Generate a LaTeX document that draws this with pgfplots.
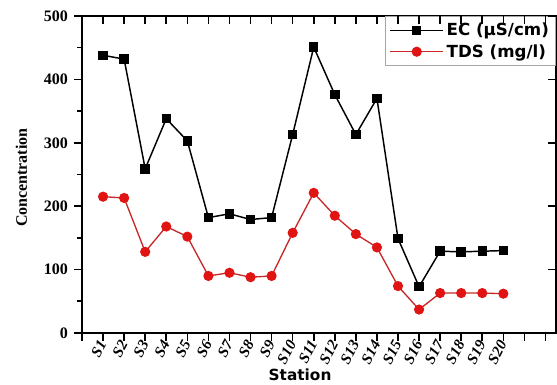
\documentclass[border=0pt]{standalone}
\usepackage{fontspec}
\setmainfont{Liberation Serif}
\newfontfamily\dejab{DejaVu Sans}[BoldFont={DejaVu Sans Bold}]
\usepackage{pgfplots}
\pgfplotsset{compat=1.18}
\usepackage{pgfplotstable}
\definecolor{tdsred}{RGB}{225,20,20}
\definecolor{tdsline}{RGB}{200,40,40}
\pgfplotstableread{
x EC TDS
0 438 215
1 432 213
2 259 128
3 338 168
4 303 152
5 182 90
6 188 95
7 179 88
8 182 90
9 313 158
10 451 221
11 376 185
12 313 156
13 370 135
14 149 74
15 73 37
16 129 63
17 128 63
18 129 63
19 130 62
}\datatable
\begin{document}
\begin{tikzpicture}
\begin{axis}[
  scale only axis,
  width=355.5pt, height=237.75pt,
  xmin=-1, xmax=21.5, ymin=0, ymax=500,
  axis line style={line width=1.5pt},
  xtick={-1,0,...,21},
  xticklabels={,S1,S2,S3,S4,S5,S6,S7,S8,S9,S10,S11,S12,S13,S14,S15,S16,S17,S18,S19,S20,,},
  ytick={0,100,...,500},
  minor ytick={50,150,...,450},
  xtick pos=bottom, ytick pos=left,
  tick align=outside,
  major tick length=6pt, minor tick length=3.5pt,
  tick style={line width=1.2pt, black},
  /pgf/number format/assume math mode=true,
  yticklabel style={font=\fontsize{12}{14}\selectfont\bfseries, xshift=-1pt},
  xticklabel style={font=\fontsize{11.5}{12}\selectfont\bfseries\itshape, rotate=62, anchor=east, inner sep=0.5pt},
  ylabel={Concentration},
  ylabel style={font=\fontsize{12}{14}\selectfont\bfseries, at={(axis description cs:-0.128,0.49)}, anchor=center},
  xlabel={Station},
  xlabel style={font=\dejab\bfseries\fontsize{11.5}{13}\selectfont, at={(axis description cs:0.46,0)}, anchor=center, yshift=-31.5pt},
  legend style={at={(1,1)}, anchor=north east, draw=gray!70, line width=0.6pt,
    font=\dejab\bfseries\fontsize{12.5}{14}\selectfont, inner xsep=3pt, inner ysep=3pt, row sep=1pt, cells={anchor=west}},
  legend image code/.code={\draw[#1, mark repeat=2, mark phase=2] plot coordinates {(0cm,0cm) (0.7cm,0cm) (1.4cm,0cm)};},
  clip=false,
]
\addplot[black, line width=1.1pt, mark=square*, mark size=3pt] table[x=x, y=EC] {\datatable};
\addlegendentry{EC (µS/cm)}
\addplot[tdsline, line width=1pt, mark=*, mark size=3.3pt, mark options={fill=tdsred, draw=tdsred}] table[x=x, y=TDS] {\datatable};
\addlegendentry{TDS (mg/l)}
\coordinate (bl) at (rel axis cs:0,0);
\coordinate (tr) at (rel axis cs:1,1);
\end{axis}
\begin{axis}[
  scale only axis,
  width=355.5pt, height=237.75pt,
  xmin=-1, xmax=21.5, ymin=0, ymax=500,
  axis line style={draw=none},
  xtick={-1,0,...,21},
  ytick={0,100,...,500},
  xtick pos=top, ytick pos=right,
  tick align=inside,
  major tick length=6pt,
  tick style={line width=1.2pt, black},
  xticklabels={}, yticklabels={},
]
\end{axis}
\pgfresetboundingbox
\path ([shift={(-61.5pt,-39pt)}]bl) rectangle ([shift={(0.75pt,12pt)}]tr);
\end{tikzpicture}
\end{document}
